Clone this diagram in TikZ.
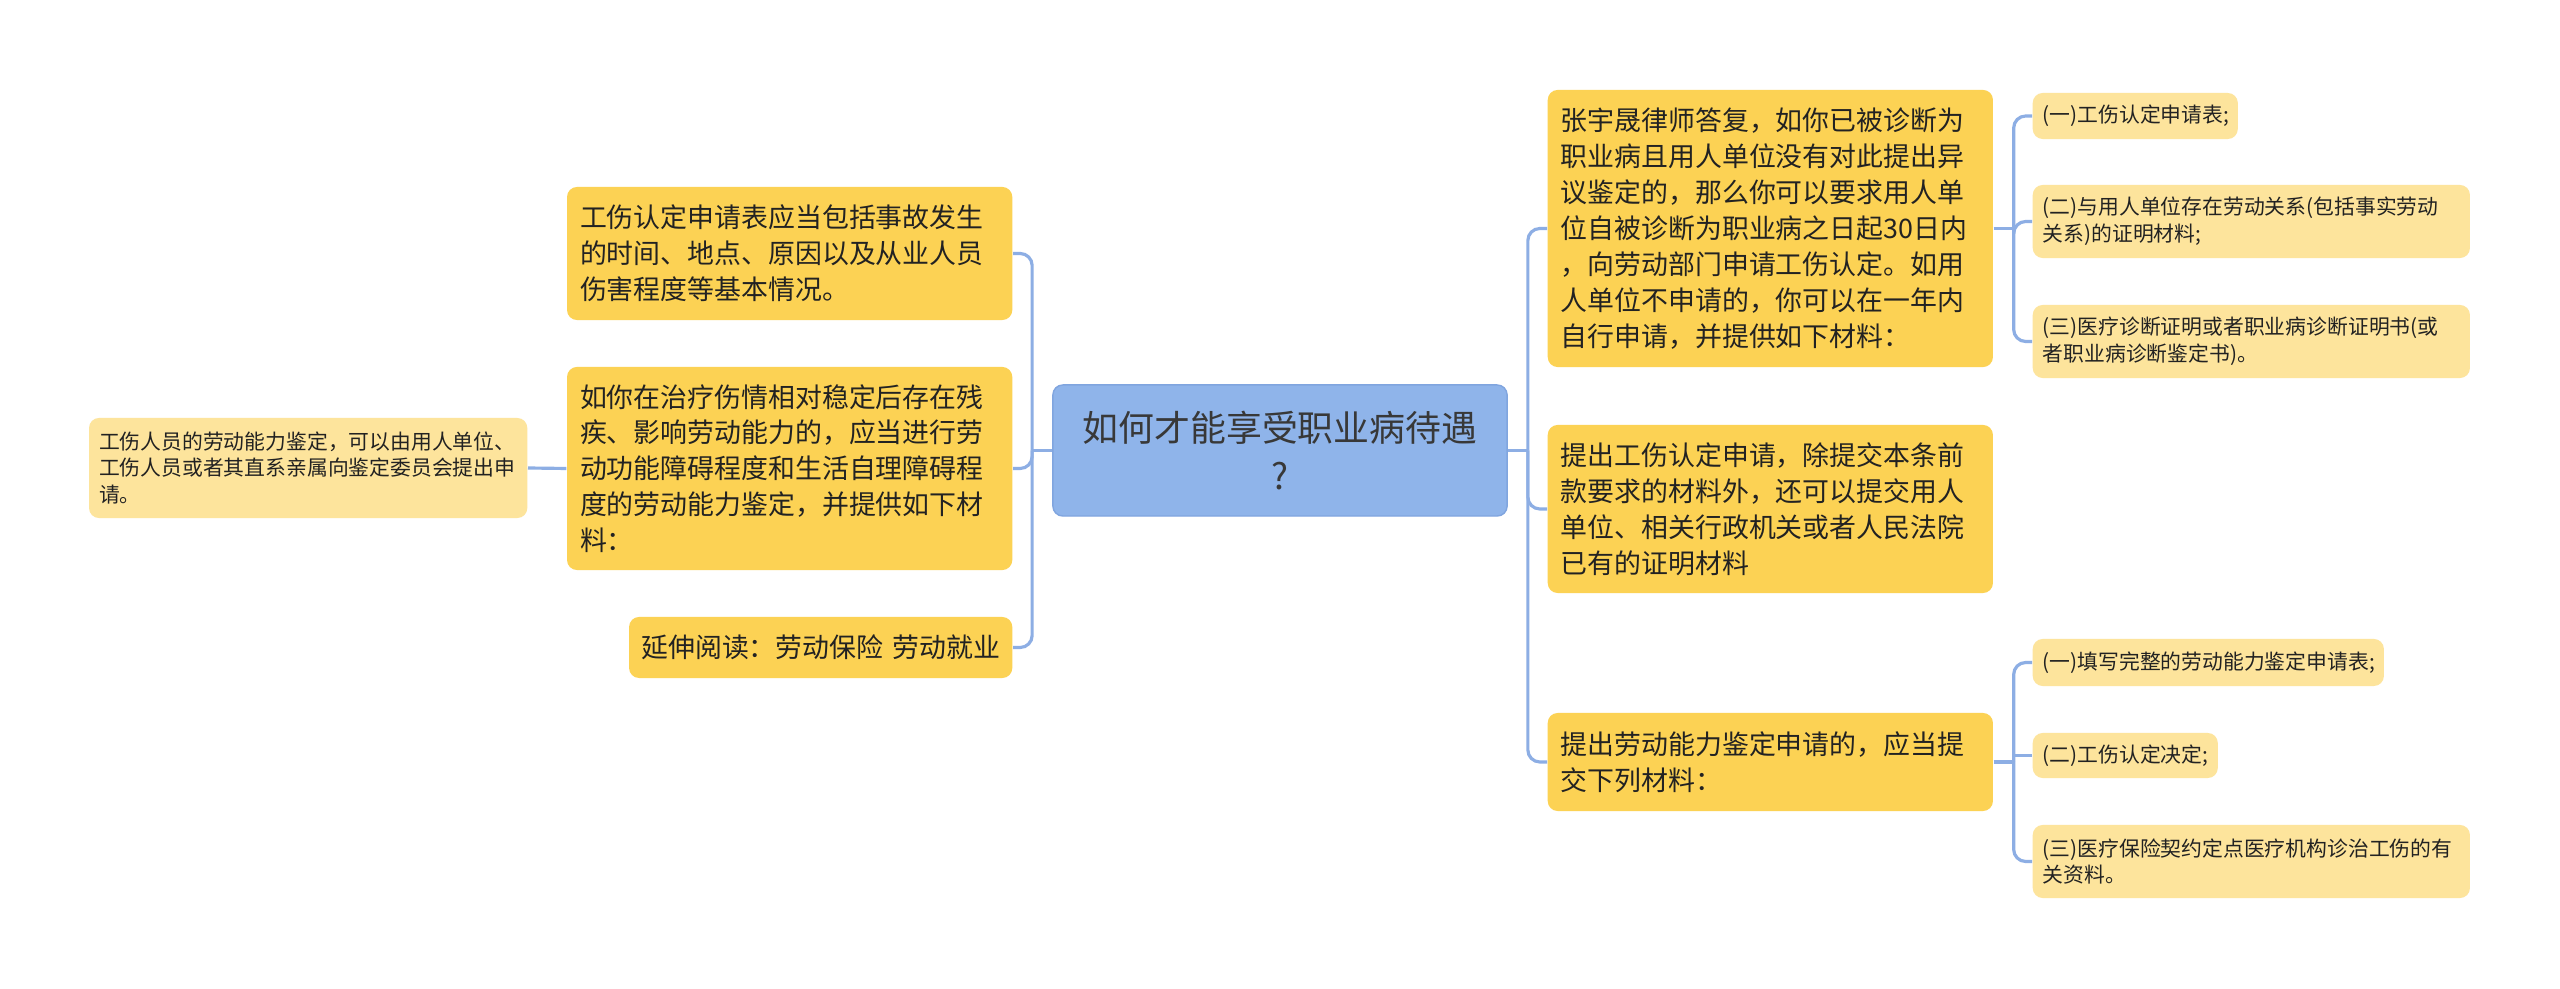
\documentclass[tikz,border=0pt]{standalone}
\usepackage{fontspec}
\setmainfont{Noto Sans CJK SC}
\definecolor{topicblue}{HTML}{8FB4EA}
\definecolor{topicedge}{HTML}{80A5DF}
\definecolor{branchyellow}{HTML}{FCD254}
\definecolor{leafyellow}{HTML}{FDE49C}
\definecolor{linkblue}{HTML}{8DAEE4}
\definecolor{inkdark}{HTML}{222222}
\tikzset{>=stealth,
	topic/.style={fill=topicblue,draw=topicedge,line width=0.4pt,rounded corners=0.1cm,text=inkdark!90,align=center,text width=4.3cm,inner xsep=0.12cm,inner ysep=0.05cm,minimum height=1.31cm,font=\fontsize{10.2pt}{13.5pt}\selectfont},
	branch/.style={fill=branchyellow,rounded corners=0.1cm,text=inkdark,align=left,text width=4.19cm,inner xsep=0.13cm,inner ysep=0.05cm,font=\fontsize{7.65pt}{10.2pt}\selectfont},
	leaf/.style={fill=leafyellow,rounded corners=0.1cm,text=inkdark,align=left,text width=4.17cm,inner xsep=0.1cm,inner ysep=0.04cm,font=\fontsize{5.92pt}{7.55pt}\selectfont},
	link/.style={draw=linkblue,line width=0.9pt,rounded corners=0.12cm}}
\begin{document}
\begin{tikzpicture}[x=0.01cm,y=-0.01cm]
	\fill[white] (0,0) rectangle (2560,989);
	\useasboundingbox (0,0) rectangle (2560,989);
	\node (C) at (1280,450.5) [topic] {如何才能享受职业病待遇\\?};
	\node (L1) at (1013,253.5) [branch,anchor=east,minimum height=1.33cm] {工伤认定申请表应当包括事故发生\\的时间、地点、原因以及从业人员\\伤害程度等基本情况。};
	\node (L2) at (1013,468.5) [branch,anchor=east,minimum height=2.03cm] {如你在治疗伤情相对稳定后存在残\\疾、影响劳动能力的，应当进行劳\\动功能障碍程度和生活自理障碍程\\度的劳动能力鉴定，并提供如下材\\料：};
	\node (L3) at (1013,647.5) [branch,anchor=east,align=center,text width=3.71cm,inner xsep=0.06cm,minimum height=0.61cm] {延伸阅读：劳动保险~劳动就业};
	\node (LL) at (528,468) [leaf,anchor=east,text width=4.18cm,minimum height=1cm] {工伤人员的劳动能力鉴定，可以由用人单位、\\工伤人员或者其直系亲属向鉴定委员会提出申\\请。};
	\node (R1) at (1547,228.5) [branch,anchor=west,minimum height=2.77cm] {张宇晟律师答复，如你已被诊断为\\职业病且用人单位没有对此提出异\\议鉴定的，那么你可以要求用人单\\位自被诊断为职业病之日起30日内\\，向劳动部门申请工伤认定。如用\\人单位不申请的，你可以在一年内\\自行申请，并提供如下材料：};
	\node (R2) at (1547,509) [branch,anchor=west,minimum height=1.68cm] {提出工伤认定申请，除提交本条前\\款要求的材料外，还可以提交用人\\单位、相关行政机关或者人民法院\\已有的证明材料};
	\node (R3) at (1547,762) [branch,anchor=west,minimum height=0.98cm] {提出劳动能力鉴定申请的，应当提\\交下列材料：};
	\node (RR1) at (2032,116) [leaf,anchor=west,text width=1.85cm,minimum height=0.46cm] {(一)工伤认定申请表;};
	\node (RR2) at (2032,221.5) [leaf,anchor=west,minimum height=0.73cm] {(二)与用人单位存在劳动关系(包括事实劳动\\关系)的证明材料;};
	\node (RR3) at (2032,341.5) [leaf,anchor=west,minimum height=0.73cm] {(三)医疗诊断证明或者职业病诊断证明书(或\\者职业病诊断鉴定书)。};
	\node (RR4) at (2032,662.5) [leaf,anchor=west,text width=3.31cm,minimum height=0.47cm] {(一)填写完整的劳动能力鉴定申请表;};
	\node (RR5) at (2032,755.5) [leaf,anchor=west,text width=1.65cm,minimum height=0.45cm] {(二)工伤认定决定;};
	\node (RR6) at (2032,861.5) [leaf,anchor=west,minimum height=0.73cm] {(三)医疗保险契约定点医疗机构诊治工伤的有\\关资料。};
	\coordinate (jL) at ([xshift=-0.2cm]C.west);
	\coordinate (jR) at ([xshift=0.2cm]C.east);
	\coordinate (jR1) at ([xshift=0.2cm]R1.east);
	\coordinate (jR3) at ([xshift=0.2cm]R3.east);
	\draw[link] (C.west) -- (jL);
	\draw[link] (jL) |- (L1.east);
	\draw[link] (jL) |- (L2.east);
	\draw[link] (jL) |- (L3.east);
	\draw[link] (L2.west) -- (LL.east);
	\draw[link] (C.east) -- (jR);
	\draw[link] (jR) |- (R1.west);
	\draw[link] (jR) |- (R2.west);
	\draw[link] (jR) |- (R3.west);
	\draw[link] (R1.east) -- (jR1);
	\draw[link] (jR1) |- (RR1.west);
	\draw[link] (jR1) |- (RR2.west);
	\draw[link] (jR1) |- (RR3.west);
	\draw[link] (R3.east) -- (jR3);
	\draw[link] (jR3) |- (RR4.west);
	\draw[link] (jR3 |- RR5.west) -- (RR5.west);
	\draw[link] (jR3) |- (RR6.west);
\end{tikzpicture}
\end{document}
